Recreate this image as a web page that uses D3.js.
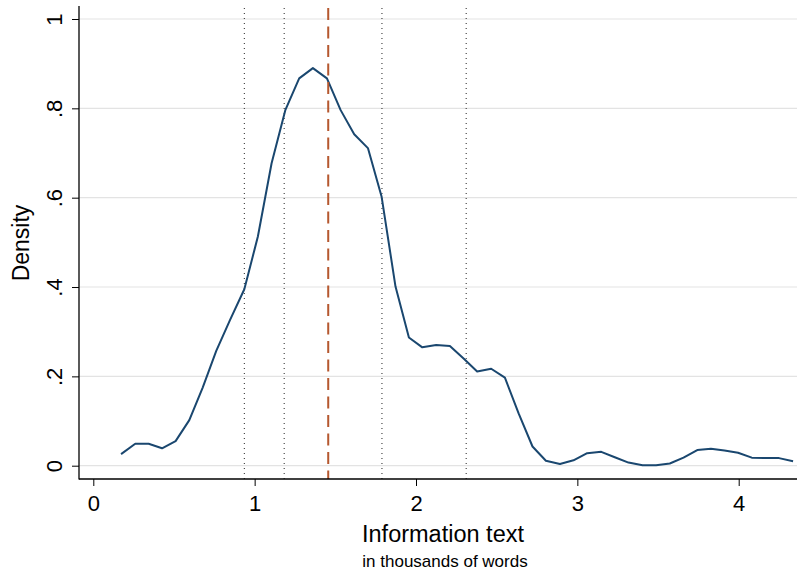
<!DOCTYPE html>
<html>
<head>
<meta charset="utf-8">
<script src="https://cdn.jsdelivr.net/npm/d3@7"></script>
<style>
  html, body { margin: 0; padding: 0; background: #fff; }
  svg { display: block; font-family: "Liberation Sans", Arial, sans-serif; }
</style>
</head>
<body>
<svg id="chart" width="797" height="575"></svg>
<script>
// ---- data ----
const xWords = [0.172, 0.260, 0.343, 0.426, 0.510, 0.595, 0.678, 0.762, 0.847, 0.936,
                1.020, 1.105, 1.190, 1.276, 1.361, 1.448, 1.533, 1.617, 1.702, 1.787,
                1.873, 1.956, 2.039, 2.125, 2.210, 2.295, 2.379, 2.466, 2.551, 2.636,
                2.722, 2.805, 2.892, 2.976, 3.061, 3.148, 3.232, 3.317, 3.404, 3.488,
                3.573, 3.658, 3.743, 3.828, 3.912, 3.996, 4.081, 4.166, 4.250, 4.337];
const density = [0.026, 0.049, 0.049, 0.039, 0.055, 0.102, 0.175, 0.257, 0.326, 0.395,
                 0.513, 0.677, 0.796, 0.867, 0.890, 0.867, 0.796, 0.742, 0.711, 0.602,
                 0.401, 0.287, 0.265, 0.270, 0.268, 0.240, 0.211, 0.217, 0.197, 0.117,
                 0.043, 0.011, 0.004, 0.012, 0.028, 0.031, 0.019, 0.007, 0.001, 0.001,
                 0.005, 0.018, 0.035, 0.038, 0.034, 0.029, 0.018, 0.017, 0.017, 0.010];
const dottedRefs = [0.936, 1.183, 1.789, 2.311];   // dotted reference lines
const meanRef = [1.456];                            // dashed reference line
const xTicks = [0, 1, 2, 3, 4];
const xTickLabels = ["0", "1", "2", "3", "4"];
const yTicks = [0, 0.2, 0.4, 0.6, 0.8, 1];
const yTickLabels = ["0", ".2", ".4", ".6", ".8", "1"];
const xTitle = "Information text";
const xSubtitle = "in thousands of words";
const yTitle = "Density";

// ---- layout ----
const frame = { left: 79, right: 797, top: 6, bottom: 479 };
const svg = d3.select("#chart");

const x = d3.scaleLinear().domain([0, 4]).range([93.3, 738.7]);
const y = d3.scaleLinear().domain([0, 1]).range([465.7, 19]);

// gridlines
svg.append("g").selectAll("line").data(yTicks).join("line")
  .attr("x1", frame.left).attr("x2", frame.right)
  .attr("y1", d => y(d)).attr("y2", d => y(d))
  .attr("stroke", "#e3e3e3").attr("stroke-width", 1.2);

// dotted reference lines
svg.append("g").selectAll("line").data(dottedRefs).join("line")
  .attr("x1", d => x(d)).attr("x2", d => x(d))
  .attr("y1", 8).attr("y2", frame.bottom)
  .attr("stroke", "#222").attr("stroke-width", 1)
  .attr("stroke-dasharray", "1,4");

// density curve
const line = d3.line().x((d, i) => x(xWords[i])).y(d => y(d));
svg.append("path").datum(density)
  .attr("d", line)
  .attr("fill", "none")
  .attr("stroke", "#1a476f")
  .attr("stroke-width", 2)
  .attr("stroke-linejoin", "round");

// dashed mean line
svg.append("g").selectAll("line").data(meanRef).join("line")
  .attr("x1", d => x(d)).attr("x2", d => x(d))
  .attr("y1", 8).attr("y2", frame.bottom)
  .attr("stroke", "#b5582f").attr("stroke-width", 2)
  .attr("stroke-dasharray", "12,6.5");

// axes
const yAxis = d3.axisLeft(y).tickValues(yTicks)
  .tickFormat((d, i) => yTickLabels[i]).tickSize(7).tickPadding(0);
const gy = svg.append("g").attr("transform", `translate(${frame.left},0)`).call(yAxis);
gy.select(".domain").remove();
gy.selectAll(".tick line").attr("stroke", "#000");
gy.selectAll(".tick text")
  .attr("x", null).attr("dy", null)
  .attr("transform", "translate(-17,0) rotate(-90)")
  .attr("text-anchor", "middle")
  .attr("font-size", 22)
  .attr("font-family", "Liberation Sans, Arial, sans-serif")
  .attr("fill", "#000");

const xAxis = d3.axisBottom(x).tickValues(xTicks)
  .tickFormat((d, i) => xTickLabels[i]).tickSize(7).tickPadding(0);
const gx = svg.append("g").attr("transform", `translate(0,${frame.bottom})`).call(xAxis);
gx.select(".domain").remove();
gx.selectAll(".tick line").attr("stroke", "#000");
gx.selectAll(".tick text")
  .attr("y", 31.5).attr("dy", null)
  .attr("font-size", 22)
  .attr("font-family", "Liberation Sans, Arial, sans-serif")
  .attr("fill", "#000");

// axis lines
svg.append("line").attr("x1", frame.left).attr("x2", frame.left)
  .attr("y1", frame.top).attr("y2", frame.bottom + 0.5)
  .attr("stroke", "#000").attr("stroke-width", 1.3);
svg.append("line").attr("x1", frame.left).attr("x2", frame.right)
  .attr("y1", frame.bottom).attr("y2", frame.bottom)
  .attr("stroke", "#000").attr("stroke-width", 1.3);

// titles
svg.append("text").attr("x", 443).attr("y", 542)
  .attr("text-anchor", "middle").attr("font-size", 23.5).attr("fill", "#000")
  .text(xTitle);
svg.append("text").attr("x", 445).attr("y", 567)
  .attr("text-anchor", "middle").attr("font-size", 17).attr("fill", "#000")
  .text(xSubtitle);
svg.append("text")
  .attr("transform", "translate(29,243) rotate(-90)")
  .attr("text-anchor", "middle").attr("font-size", 23).attr("fill", "#000")
  .text(yTitle);
</script>
</body>
</html>
